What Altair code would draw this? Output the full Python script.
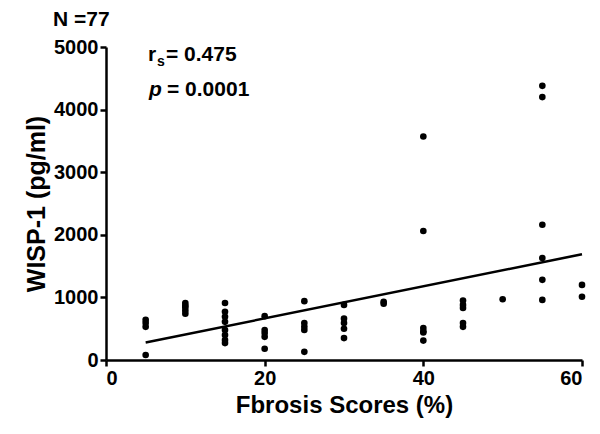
import altair as alt
import pandas as pd

# Fibrosis score (%) and WISP-1 (pg/ml)
score = [5, 5, 5, 5,
         10, 10, 10, 10, 10,
         15, 15, 15, 15, 15, 15, 15, 15,
         20, 20, 20, 20, 20,
         25, 25, 25, 25, 25,
         30, 30, 30, 30, 30,
         35, 35,
         40, 40, 40, 40, 40, 40,
         45, 45, 45, 45, 45,
         50,
         55, 55, 55, 55, 55, 55,
         60, 60]
wisp = [640, 590, 530, 80,
        910, 870, 840, 790, 740,
        910, 770, 690, 610, 480, 400, 320, 270,
        700, 480, 430, 370, 180,
        940, 590, 530, 480, 130,
        880, 660, 590, 500, 350,
        930, 900,
        3570, 2060, 510, 460, 440, 310,
        950, 880, 830, 590, 530,
        970,
        4380, 4200, 2160, 1630, 1280, 960,
        1200, 1010]

fit_x = [5, 60]
fit_y = [280, 1690]

pts = pd.DataFrame({"score": score, "wisp": wisp})
fit = pd.DataFrame({"score": fit_x, "wisp": fit_y})

FONT = "Liberation Sans"

xs = alt.X("score:Q", scale=alt.Scale(domain=[0, 60], nice=False),
           axis=alt.Axis(values=[0, 20, 40, 60], format="d", title="Fbrosis Scores (%)"))
ys = alt.Y("wisp:Q", scale=alt.Scale(domain=[0, 5000], nice=False),
           axis=alt.Axis(values=[0, 1000, 2000, 3000, 4000, 5000], format="d",
                         title="WISP-1 (pg/ml)"))

points = alt.Chart(pts).mark_circle(size=44, color="black", opacity=1).encode(x=xs, y=ys)
line = alt.Chart(fit).mark_line(color="black", strokeWidth=2.5).encode(x=xs, y=ys)

def label(txt, x, y, size=21, style="normal"):
    return alt.Chart(pd.DataFrame({"t": [txt]})).mark_text(
        font=FONT, fontSize=size, fontWeight="bold", fontStyle=style,
        align="left", baseline="middle", color="black"
    ).encode(text="t:N", x=alt.value(x), y=alt.value(y))

texts = (
    label("N =77", -53, -27)
    + label("r", 42, 8)
    + label("s", 51, 15, size=14)
    + label("= 0.475", 60, 8)
    + label("p", 43, 43, style="italic")
    + label("= 0.0001", 61, 43)
)

chart = (line + points + texts).properties(
    width=476, height=313,
    autosize="none",
    padding={"left": 98, "top": 39, "right": 10, "bottom": 66},
).configure_view(stroke=None).configure_axis(
    grid=False,
    domainColor="black", domainWidth=2.5,
    tickColor="black", tickWidth=2.5, tickSize=6,
    labelFont=FONT, labelFontSize=20, labelFontWeight="bold", labelColor="black",
    titleFont=FONT, titleFontWeight="bold", titleColor="black",
    labelPadding=2,
).configure_axisX(titlePadding=5, titleFontSize=24).configure_axisY(titlePadding=4, titleFontSize=25)

chart.save("out.html", embed_options={"renderer": "svg", "actions": False})
